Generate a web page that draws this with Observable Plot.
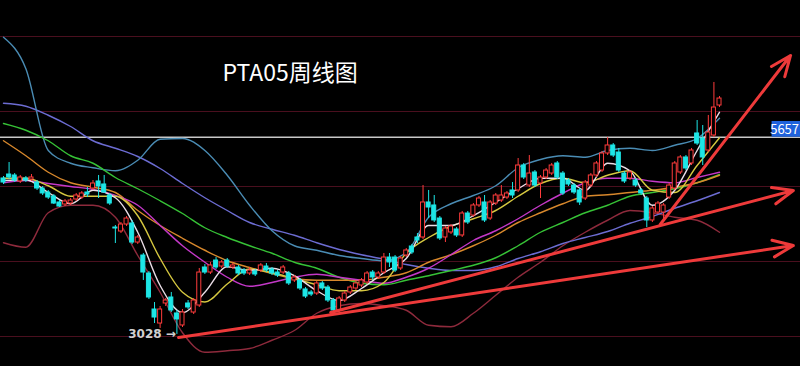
<!DOCTYPE html>
<html><head><meta charset="utf-8">
<script src="https://cdn.jsdelivr.net/npm/d3@7"></script>
<script src="https://cdn.jsdelivr.net/npm/@observablehq/plot@0.6"></script>
<style>html,body{margin:0;padding:0;background:#000;overflow:hidden}</style>
</head><body><div id="chart"></div>
<script>
// Weekly candles (index 0..128), prices
const opens = [5107,5160,5147,5067,5107,5093,5053,4973,4920,4867,
4787,4760,4773,4827,4853,4920,4973,5067,5027,4880,
4453,4400,4493,4507,4253,4080,3840,3360,3173,3440,
3520,3307,3147,3440,3320,3413,3920,3853,4013,3933,
4013,3920,3920,3880,3840,3867,3880,3933,3893,3853,
3853,3840,3747,3747,3627,3587,3573,3707,3653,3480,
3347,3480,3587,3640,3680,3720,3853,3787,3853,4053,
4053,3907,4080,4200,4320,4320,4787,4747,4573,4320,
4387,4427,4347,4640,4613,4747,4787,4573,4773,4813,
4853,4947,4947,5280,5013,5187,5040,5120,5173,5307,
5173,5080,5013,4947,4840,5013,5147,5213,5440,5547,
5453,5173,5107,5080,4947,4840,4547,4653,4653,4853,
4973,5187,5387,5307,5707,5640,5480,5680,6080];
const highs = [5133,5320,5173,5147,5133,5160,5080,5000,4947,4893,
4813,4827,4840,4907,4933,4987,5080,5147,5147,4907,
4480,4520,4600,4547,4347,4107,3867,3453,3400,3507,
3587,3347,3360,3480,3507,3907,3960,3987,4053,4013,
4040,3973,3947,3907,3920,3893,3973,3973,3920,3880,
3947,3867,3813,3773,3653,3613,3733,3733,3680,3507,
3533,3600,3680,3733,3773,3867,3880,3867,4107,4107,
4080,4067,4173,4227,4373,5013,4947,4880,4600,4467,
4493,4453,4667,4667,4773,4867,4880,4813,4907,5013,
4933,5053,5373,5307,5413,5213,5147,5240,5307,5333,
5200,5107,5040,4973,5080,5173,5333,5467,5653,5573,
5507,5200,5213,5107,4973,4867,4733,4800,4773,5040,
5333,5413,5413,5507,5880,5813,5947,6387,6200];
const lows = [5027,5093,5053,5040,5053,5067,4947,4880,4827,4760,
4720,4733,4747,4800,4827,4853,4947,4840,4907,4747,
4240,4373,4467,4227,4227,3747,3493,3173,3107,3400,
3320,3028,3120,3360,3293,3387,3827,3827,3893,3907,
3907,3893,3813,3813,3813,3800,3853,3853,3813,3787,
3827,3680,3720,3613,3507,3533,3547,3613,3453,3320,
3320,3453,3560,3613,3653,3693,3747,3760,3827,3920,
3853,3880,4053,4093,4240,4293,4573,4520,4280,4253,
4360,4320,4320,4493,4587,4720,4520,4547,4747,4787,
4827,4840,4920,5093,4987,4987,4840,5093,5147,5093,
4880,5000,4893,4747,4813,4987,5120,5187,5413,5387,
5187,5040,5080,4987,4880,4453,4520,4627,4520,4827,
4947,5160,5213,5280,5547,5280,5453,5653,6053];
const closes = [5053,5120,5080,5120,5080,5120,4973,4907,4853,4773,
4733,4800,4813,4880,4907,4893,5040,5000,4920,4773,
4440,4493,4573,4253,4320,3853,3520,3253,3360,3480,
3347,3227,3320,3387,3480,3853,3853,3947,3920,3987,
3933,3947,3840,3840,3880,3827,3947,3880,3840,3813,
3920,3707,3787,3640,3533,3560,3707,3640,3480,3347,
3507,3573,3653,3707,3747,3840,3787,3840,4053,3987,
3880,4040,4147,4120,4280,4787,4720,4547,4307,4440,
4467,4347,4640,4520,4747,4840,4547,4787,4880,4880,
4907,4880,5280,5120,5173,5013,5120,5213,5280,5120,
4907,5027,4920,4787,5053,5147,5307,5440,5547,5413,
5213,5067,5187,5013,4907,4547,4707,4773,4747,5013,
5307,5387,5240,5480,5573,5387,5720,6053,6173];

// Indicator lines, read every 4 weeks
const lineIdx = [0,4,8,12,16,20,24,28,32,36,40,44,48,52,56,60,64,68,72,76,80,84,88,92,96,100,104,108,112,116,120,124,128];
const ma5 = [5080,5090,4920,4770,4950,4850,4390,3680,3320,3590,3930,3880,3910,3810,3610,3480,3640,3850,4040,4480,4480,4610,4790,4970,5110,5110,4950,5310,5210,4750,4950,5480,5990];
const ma10 = [5110,5110,5010,4870,4870,4870,4610,4040,3590,3460,3700,3900,3850,3770,3690,3610,3610,3720,4110,4320,4470,4570,4680,4870,5040,5110,5050,5150,5210,4950,4920,5280,5650];
const ma20 = [5050,5080,5040,5000,4960,4880,4750,4480,4210,3990,3790,3670,3720,3790,3830,3790,3750,3710,3790,3910,4090,4280,4410,4570,4750,4910,5050,5110,5110,5070,5050,5120,5190];
const ma30 = [5610,5410,5190,5050,4990,4920,4680,4480,4310,4150,4010,3920,3840,3770,3750,3750,3750,3790,3850,3990,4090,4210,4350,4520,4650,4770,4870,4890,4920,4950,4990,5050,5150];
const ma60 = [5840,5750,5610,5410,5310,5120,4970,4810,4640,4450,4320,4210,4110,3990,3910,3790,3710,3690,3750,3810,3880,3950,4050,4210,4390,4520,4650,4750,4870,4920,4970,5050,5160];
const ma120 = [6110,6070,5950,5800,5610,5510,5400,5240,5040,4850,4680,4520,4430,4350,4250,4160,4090,4030,3960,3910,3880,3880,3930,4040,4130,4240,4320,4400,4510,4600,4710,4810,4920];
const bollUpper = [6990,6570,5480,5310,5250,5210,5350,5630,5640,5480,5150,4750,4410,4210,4150,4080,4040,4010,4120,4590,4770,4880,5010,5250,5360,5410,5390,5480,5510,5480,5550,5640,5910];
const bollLower = [4250,4190,4650,4750,4750,4590,4080,3590,3050,2790,2810,2840,2950,3080,3310,3410,3440,3410,3350,3150,3130,3310,3550,3790,3990,4210,4390,4550,4680,4650,4590,4550,4390];

// Hand-drawn trend arrows (week index, price)
const trendFromIdx = [31.3, 58.5, 117.4];
const trendFromPrice = [2987, 3320, 4493];
const trendToIdx = [141.2, 141.2, 140.7];
const trendToPrice = [4213, 4947, 6747];

const gridPrices = [3000, 4000, 5000, 6000, 7000];
const lastPrice = 5657;
const lowPrice = 3028;
const lowIdx = 31;
const title = "PTA05周线图";

const candles = opens.map((o, i) => ({i, open: o, high: highs[i], low: lows[i], close: closes[i], up: closes[i] >= o}));
const series = [
  {v: bollLower, c: "#8e2a3c"},
  {v: ma120, c: "#6c6cd2"},
  {v: bollUpper, c: "#4a8cb4"},
  {v: ma60, c: "#36c236"},
  {v: ma30, c: "#d8882c"},
  {v: ma20, c: "#c438c8"},
  {v: ma10, c: "#d6c840"},
  {v: ma5, c: "#eadde6"}
];
const trends = trendFromIdx.map((x, k) => ({x1: x, y1: trendFromPrice[k], x2: trendToIdx[k], y2: trendToPrice[k]}));
const F = "'Noto Sans CJK SC', 'Noto Sans', sans-serif";
const RED = "#ff3c3c", CYAN = "#1de6e6";

const marks = [
  Plot.ruleY(gridPrices, {stroke: "#4a0f1e", strokeWidth: 1}),
  Plot.ruleY([lastPrice], {stroke: "#c8c8c8", strokeWidth: 1.6}),
  ...series.map(s => Plot.line(s.v.map((v, k) => ({i: lineIdx[k], v})), {x: "i", y: "v", stroke: s.c, strokeWidth: 1.4, curve: "monotone-x"})),
  Plot.ruleX(candles, {x: "i", y1: "low", y2: "high", stroke: d => d.up ? RED : CYAN, strokeWidth: 1}),
  Plot.rect(candles, {x1: d => d.i - 0.36, x2: d => d.i + 0.36, y1: "open", y2: "close",
    fill: d => d.up ? "#000" : CYAN, stroke: d => d.up ? RED : CYAN, strokeWidth: 1}),
  Plot.arrow(trends, {x1: "x1", y1: "y1", x2: "x2", y2: "y2", stroke: "#ee3a3a", strokeWidth: 3, headLength: 11, headAngle: 45}),
  Plot.rect([lastPrice], {x1: 137.4, x2: 142.5, y1: d => d, y2: d => d + 210, fill: "#1f62dc"}),
  Plot.text([lastPrice], {x: 142.4, y: d => d + 105, text: d => String(d), textAnchor: "end", dx: -1, fill: "#fff", fontSize: 13, fontFamily: F}),
  Plot.text([lowPrice], {x: lowIdx, y: d => d, text: d => d + " →", textAnchor: "end", dx: -1, fill: "#d0d0d0", fontSize: 12, fontWeight: "bold", fontFamily: "'DejaVu Sans', sans-serif"}),
  Plot.text([title], {frameAnchor: "top-left", dx: 222, dy: 73, text: d => d, textAnchor: "start", lineAnchor: "middle", fill: "#fff", fontSize: 23, fontFamily: F})
];

const chart = Plot.plot({
  width: 800, height: 366, margin: 0,
  x: {type: "linear", domain: [-0.536, 142.48], axis: null},
  y: {type: "linear", domain: [2600, 7480], axis: null},
  style: {background: "#000", color: "#fff"},
  marks
});
document.getElementById("chart").appendChild(chart);
</script></body></html>
